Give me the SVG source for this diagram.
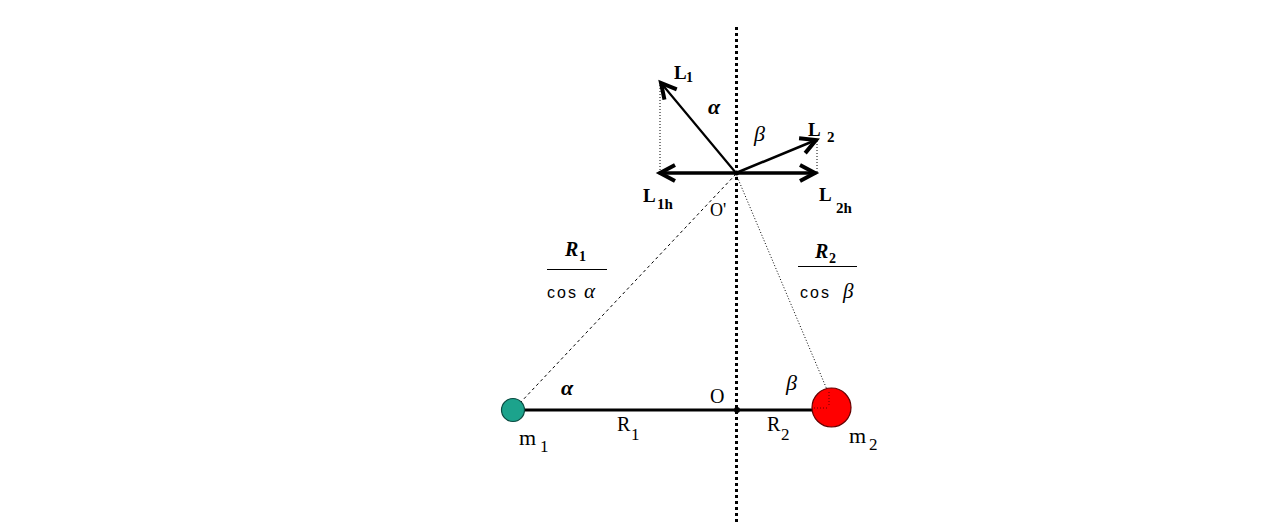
<svg xmlns="http://www.w3.org/2000/svg" width="1275" height="530" viewBox="0 0 1275 530">
<style>
.lbl{font-family:"Liberation Serif",serif;fill:#000}
.b{font-weight:bold}
.it{font-style:italic}
.sans{font-family:"Liberation Sans",sans-serif;fill:#000}
.vec{stroke:#000;fill:none;stroke-linecap:round}
.thin{stroke:#000;stroke-width:1;fill:none}
</style>
<defs>
<marker id="vhead" markerUnits="userSpaceOnUse" markerWidth="30" markerHeight="30" refX="0" refY="0" viewBox="-20 -15 25 30" orient="auto" overflow="visible">
<path d="M-15,-8 L0,0 L-15,8" fill="none" stroke="#000" stroke-width="4" stroke-linejoin="miter"/>
</marker>
</defs>
<rect width="1275" height="530" fill="#fff"/>
<g id="connectors">
<line id="axis" x1="736.5" y1="27" x2="736.5" y2="525" stroke="#000" stroke-width="3" stroke-dasharray="3 3"/>
<line id="rod" x1="513" y1="410" x2="815" y2="410" stroke="#000" stroke-width="3"/>
<line id="dash1" x1="736" y1="174" x2="520" y2="403" class="thin" stroke-dasharray="3 3"/>
<line id="dash2" x1="736" y1="174" x2="828" y2="392" class="thin" stroke-dasharray="1 2"/>
<line x1="660" y1="85" x2="660" y2="172" class="thin" stroke-dasharray="1 2"/>
<line x1="817" y1="141" x2="817" y2="172" class="thin" stroke-dasharray="1 2"/>
<line id="L1" x1="736" y1="173" x2="661" y2="83" class="vec" stroke-width="2.2" marker-end="url(#vhead)"/>
<line id="L2" x1="736" y1="173" x2="816" y2="140" class="vec" stroke-width="2.5" marker-end="url(#vhead)"/>
<line id="L1h" x1="736" y1="173" x2="660" y2="173" class="vec" stroke-width="3.5" marker-end="url(#vhead)"/>
<line id="L2h" x1="736" y1="173" x2="815" y2="173" class="vec" stroke-width="3.5" marker-end="url(#vhead)"/>
<circle cx="736.5" cy="173" r="2.5" fill="#000"/>
<circle cx="737" cy="410" r="3" fill="#000"/>
</g>
<g id="m1">
<circle cx="513" cy="410" r="11.5" fill="#1ca38c" stroke="#0b4a40" stroke-width="1.2"/>
<text class="lbl" x="519" y="445" font-size="22">m</text>
<text class="lbl" x="540" y="452" font-size="17">1</text>
</g>
<g id="m2">
<circle cx="831.5" cy="407.5" r="19.5" fill="#ff0000" stroke="#600" stroke-width="1.2"/>
<line x1="829" y1="392" x2="829" y2="405" stroke="#600" stroke-width="1" stroke-dasharray="1 2"/>
<line x1="814" y1="408" x2="829" y2="408" stroke="#600" stroke-width="1" stroke-dasharray="1 2"/>
<text class="lbl" x="849" y="443" font-size="22">m</text>
<text class="lbl" x="869" y="450" font-size="17">2</text>
</g>
<g id="labels-top">
<text class="lbl b" x="674" y="79" font-size="19">L</text>
<text class="lbl b" x="686" y="82" font-size="14">1</text>
<text class="lbl b" x="643" y="202" font-size="19">L</text>
<text class="lbl b" x="657" y="209" font-size="15">1h</text>
<text class="lbl b" x="808" y="136" font-size="19">L</text>
<text class="lbl b" x="827" y="142" font-size="15">2</text>
<text class="lbl b" x="819" y="201" font-size="19">L</text>
<text class="lbl b" x="836" y="213" font-size="15">2h</text>
<text class="lbl b it" x="708" y="114" font-size="22">α</text>
<text class="lbl it" x="754" y="141" font-size="22">β</text>
<text class="lbl" x="710" y="216" font-size="18">O'</text>
</g>
<g id="frac1">
<text class="lbl it b" x="565" y="256" font-size="20">R</text>
<text class="lbl b" x="579" y="261" font-size="14">1</text>
<line x1="547" y1="269.5" x2="607" y2="269.5" stroke="#000" stroke-width="1"/>
<text class="sans" x="547" y="298" font-size="16" letter-spacing="2">cos</text>
<text class="lbl it" x="584" y="298" font-size="21">α</text>
</g>
<g id="frac2">
<text class="lbl it b" x="815" y="258" font-size="20">R</text>
<text class="lbl b" x="829" y="263" font-size="14">2</text>
<line x1="798" y1="266.5" x2="857" y2="266.5" stroke="#000" stroke-width="1"/>
<text class="sans" x="800" y="298" font-size="16" letter-spacing="2">cos</text>
<text class="lbl it" x="843" y="298" font-size="21">β</text>
</g>
<g id="labels-bottom">
<text class="lbl b it" x="561" y="395" font-size="22">α</text>
<text class="lbl it" x="786" y="390" font-size="22">β</text>
<text class="lbl" x="710" y="403" font-size="20">O</text>
<text class="lbl" x="617" y="431" font-size="20">R</text>
<text class="lbl" x="631" y="440" font-size="17">1</text>
<text class="lbl" x="767" y="431" font-size="20">R</text>
<text class="lbl" x="781" y="440" font-size="17">2</text>
</g>
</svg>
